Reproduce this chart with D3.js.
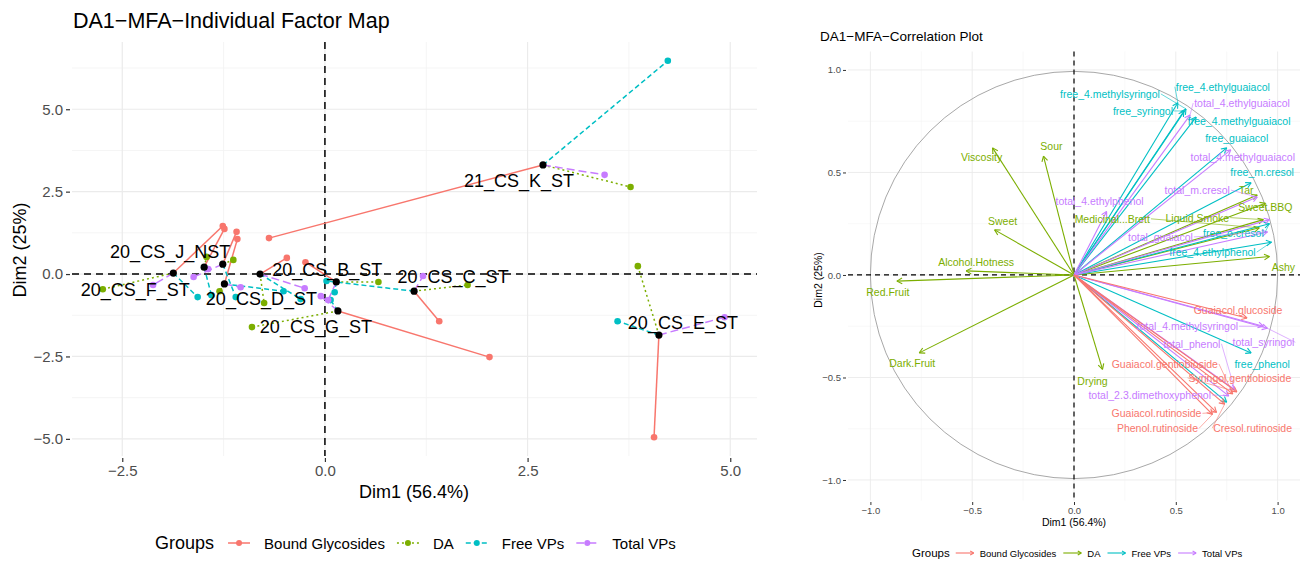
<!DOCTYPE html>
<html>
<head>
<meta charset="utf-8">
<script src="https://cdn.jsdelivr.net/npm/d3@7"></script>
<style>
  body { margin: 0; background: #fff; }
  svg { font-family: "Liberation Sans", Arial, Helvetica, sans-serif; }
</style>
</head>
<body>
<div id="chart"></div>
<script>
// ---- data ----
const groups = ["Bound Glycosides", "DA", "Free VPs", "Total VPs"];
const groupColors = ["#F8766D", "#7CAE00", "#00BFC4", "#C77CFF"];

// individuals (mean points), two of them carry no visible label
const indLabels = ["20_CS_F_ST", "20_CS_J_NST", "", "20_CS_D_ST", "", "20_CS_B_ST", "20_CS_G_ST", "20_CS_C_ST", "21_CS_K_ST", "20_CS_E_ST"];
const indDim1 = [-1.87, -1.49, -1.26, -1.24, -0.80, 0.14, 0.16, 1.10, 2.69, 4.12];
const indDim2 = [0.03, 0.21, 0.30, -0.30, 0.00, -0.24, -1.12, -0.52, 3.31, -1.85];

// partial points per group
const boundDim1 = [-1.26, -1.24, -1.09, -1.08, -0.47, -0.24, 2.03, 1.41, -0.69, 4.06];
const boundDim2 = [1.46, 1.37, 1.28, 1.06, 0.49, 0.36, -2.52, -1.43, 1.09, -4.95];
const daDim1 = [-2.74, -1.46, -1.13, -1.30, -0.75, 0.66, -0.90, 1.76, 3.77, 3.86];
const daDim2 = [-0.46, 0.52, 0.43, -0.52, -0.88, -0.24, -1.61, -0.33, 2.64, 0.24];
const freeDim1 = [-1.57, -1.40, -1.10, -0.51, -0.30, 0.12, 0.07, 0.02, 4.23, 3.61];
const freeDim2 = [-0.70, -0.64, -0.70, -0.52, -0.76, -0.55, -0.79, -0.21, 6.47, -1.43];
const totalDim1 = [-2.12, -1.44, -1.62, -1.04, -0.25, 0.04, -0.05, 1.21, 3.45, 4.93];
const totalDim2 = [-0.33, 0.15, -0.09, -0.40, -0.43, -0.79, -0.67, -0.06, 3.01, -1.31];

const indTicks = [-2.5, 0, 2.5, 5];
const indTicksY = [-5, -2.5, 0, 2.5, 5];

// variables of the correlation circle
const varNames = [
  "Viscosity", "Sour", "Sweet", "Alcohol.Hotness", "Red.Fruit", "Dark.Fruit", "Drying", "Ashy", "Tar", "Sweet.BBQ", "Liquid.Smoke", "Medicinal...Brett",
  "free_4.ethylguaiacol", "free_4.methylsyringol", "free_syringol", "free_4.methylguaiacol", "free_guaiacol", "free_m.cresol", "free_o.cresol", "free_4.ethylphenol", "free_phenol", "",
  "total_4.ethylguaiacol", "total_4.methylguaiacol", "total_m.cresol", "total_4.ethylphenol", "total_guaiacol", "total_syringol", "total_4.methylsyringol", "total_phenol", "total_2.3.dimethoxyphenol", "",
  "Guaiacol.glucoside", "Guaiacol.gentiobioside", "Syringol.gentiobioside", "Guaiacol.rutinoside", "Phenol.rutinoside", "Cresol.rutinoside"
];
const varGroup = [
  1, 1, 1, 1, 1, 1, 1, 1, 1, 1, 1, 1,
  2, 2, 2, 2, 2, 2, 2, 2, 2, 2,
  3, 3, 3, 3, 3, 3, 3, 3, 3, 3,
  0, 0, 0, 0, 0, 0
];
const varDim1 = [
  -0.40, -0.15, -0.39, -0.53, -0.87, -0.76, 0.14, 0.96, 0.90, 0.94, 0.93, 0.91,
  0.51, 0.55, 0.54, 0.60, 0.75, 0.87, 0.96, 0.97, 0.87, 0.75,
  0.57, 0.77, 0.90, 0.16, 0.95, 0.95, 0.93, 0.79, 0.76, 0.96,
  0.85, 0.78, 0.80, 0.70, 0.68, 0.74
];
const varDim2 = [
  0.62, 0.58, 0.22, 0.02, -0.03, -0.38, -0.46, 0.09, 0.39, 0.35, 0.27, 0.23,
  0.84, 0.81, 0.80, 0.77, 0.62, 0.45, 0.25, 0.16, -0.38, -0.62,
  0.78, 0.61, 0.38, 0.31, 0.21, -0.26, -0.25, -0.56, -0.59, 0.27,
  -0.21, -0.58, -0.57, -0.67, -0.68, -0.63
];
const corTicks = [-1, -0.5, 0, 0.5, 1];

// ---- layout (label placement in px, like ggrepel) ----
const indLabelShift = [[-38, 17], [-34, -15], null, [37, 15], null, [-9, -12], [-22, 16], [39, -14], [-24, 16], [24, -12]];
const varLabelShift = [
  [-11, 9], [8, -10], [8, -9], [10, -9], [-9, 11], [-7, 10], [-10, 12], [14, 10], [-11, -5], [0, 4], [-66, -2], [-147, -9],
  [45, -16], [-76, -15], [-41, 0], [43, 4], [10, -10], [11, -11], [-36, 9], [-59, 10], [11, 11], null,
  [52, -12], [12, 7], [-60, -7], [-7, -10], [-107, 5], [-4, 14], [-76, 0], [-43, -46], [-79, -1], null,
  [-9, -8], [-68, -30], [3, -14], [-60, 1], [-55, 14], [28, 24]
];

const W = 1308, H = 563;
const svg = d3.select("#chart").append("svg").attr("width", W).attr("height", H);

// ================= left: individual factor map =================
(function () {
  const x = d3.scaleLinear().domain([-3.12, 5.33]).range([72, 757]);
  const y = d3.scaleLinear().domain([-5.52, 7.04]).range([456, 42]);
  const g = svg.append("g");

  const minorX = [-1.25, 1.25, 3.75], minorY = [-3.75, -1.25, 1.25, 3.75, 6.25];
  g.selectAll(".mnx").data(minorX).join("line").attr("x1", d => x(d)).attr("x2", d => x(d)).attr("y1", 42).attr("y2", 456).attr("stroke", "#f3f3f3").attr("stroke-width", 0.8);
  g.selectAll(".mny").data(minorY).join("line").attr("y1", d => y(d)).attr("y2", d => y(d)).attr("x1", 72).attr("x2", 757).attr("stroke", "#f3f3f3").attr("stroke-width", 0.8);
  g.selectAll(".mjx").data(indTicks).join("line").attr("x1", d => x(d)).attr("x2", d => x(d)).attr("y1", 42).attr("y2", 456).attr("stroke", "#ebebeb").attr("stroke-width", 1.2);
  g.selectAll(".mjy").data(indTicksY).join("line").attr("y1", d => y(d)).attr("y2", d => y(d)).attr("x1", 72).attr("x2", 757).attr("stroke", "#ebebeb").attr("stroke-width", 1.2);

  const fmt = d3.format(".1f");
  const ax = g.append("g").attr("transform", "translate(0,458)")
    .call(d3.axisBottom(x).tickValues(indTicks).tickFormat(fmt).tickSize(4).tickPadding(3));
  const ay = g.append("g").attr("transform", "translate(70,0)")
    .call(d3.axisLeft(y).tickValues(indTicksY).tickFormat(fmt).tickSize(4).tickPadding(3));
  [ax, ay].forEach(a => {
    a.select(".domain").remove();
    a.selectAll("line").attr("stroke", "#333").attr("stroke-width", 1.2);
    a.selectAll("text").attr("fill", "#4d4d4d").style("font-size", "15px");
  });

  // reference lines
  g.append("line").attr("x1", 72).attr("x2", 757).attr("y1", y(0)).attr("y2", y(0)).attr("stroke", "#000").attr("stroke-width", 1.5).attr("stroke-dasharray", "7,5");
  g.append("line").attr("y1", 42).attr("y2", 456).attr("x1", x(0)).attr("x2", x(0)).attr("stroke", "#000").attr("stroke-width", 1.5).attr("stroke-dasharray", "7,5");

  const dash = [null, "2,3", "5,3", "8,4"];
  const parts = [[boundDim1, boundDim2], [daDim1, daDim2], [freeDim1, freeDim2], [totalDim1, totalDim2]];
  const partRows = [];
  parts.forEach((p, gi) => p[0].forEach((v, i) => partRows.push({ g: gi, i, d1: v, d2: p[1][i] })));

  g.selectAll(".seg").data(partRows).join("line")
    .attr("x1", d => x(indDim1[d.i])).attr("y1", d => y(indDim2[d.i]))
    .attr("x2", d => x(d.d1)).attr("y2", d => y(d.d2))
    .attr("stroke", d => groupColors[d.g]).attr("stroke-width", 1.5)
    .attr("stroke-dasharray", d => dash[d.g]);
  g.selectAll(".pp").data(partRows).join("circle")
    .attr("cx", d => x(d.d1)).attr("cy", d => y(d.d2)).attr("r", 3.3)
    .attr("fill", d => groupColors[d.g]);
  g.selectAll(".cp").data(indDim1).join("circle")
    .attr("cx", d => x(d)).attr("cy", (d, i) => y(indDim2[i])).attr("r", 3.6)
    .attr("fill", "#000");
  const labRows = indLabels.map((n, i) => ({ n, i })).filter(d => d.n !== "");
  g.selectAll(".lab").data(labRows).join("text")
    .attr("x", d => x(indDim1[d.i]) + indLabelShift[d.i][0])
    .attr("y", d => y(indDim2[d.i]) + indLabelShift[d.i][1])
    .attr("text-anchor", "middle").attr("dominant-baseline", "central")
    .style("font-size", "18px").attr("fill", "#000").text(d => d.n);

  svg.append("text").attr("x", 73).attr("y", 28).style("font-size", "21.5px").text("DA1\u2212MFA\u2212Individual Factor Map");
  svg.append("text").attr("x", 414).attr("y", 498).attr("text-anchor", "middle").style("font-size", "18px").text("Dim1 (56.4%)");
  svg.append("text").attr("transform", "translate(26,250) rotate(-90)").attr("text-anchor", "middle").style("font-size", "18px").text("Dim2 (25%)");

  // legend
  const lg = svg.append("g").attr("transform", "translate(0,543)");
  const gt = lg.append("text").attr("x", 155).attr("y", 0).attr("dominant-baseline", "central").style("font-size", "18px").text("Groups");
  let cx = 155 + gt.node().getComputedTextLength() + 14;
  groups.forEach((name, gi) => {
    lg.append("line").attr("x1", cx).attr("x2", cx + 22).attr("y1", 0).attr("y2", 0)
      .attr("stroke", groupColors[gi]).attr("stroke-width", 1.5).attr("stroke-dasharray", dash[gi]);
    lg.append("circle").attr("cx", cx + 11).attr("cy", 0).attr("r", 3).attr("fill", groupColors[gi]);
    const t = lg.append("text").attr("x", cx + 36).attr("y", 0).attr("dominant-baseline", "central").style("font-size", "15px").text(name);
    cx += 36 + t.node().getComputedTextLength() + 12;
  });
})();

// ================= right: correlation circle =================
(function () {
  const x = d3.scaleLinear().domain([-1.11, 1.11]).range([848, 1300]);
  const y = d3.scaleLinear().domain([-1.1, 1.09]).range([500.5, 51.5]);
  const g = svg.append("g");
  const minor = [-0.75, -0.25, 0.25, 0.75];
  g.selectAll(".mnx").data(minor).join("line").attr("x1", d => x(d)).attr("x2", d => x(d)).attr("y1", 51.5).attr("y2", 500.5).attr("stroke", "#f3f3f3").attr("stroke-width", 0.6);
  g.selectAll(".mny").data(minor).join("line").attr("y1", d => y(d)).attr("y2", d => y(d)).attr("x1", 848).attr("x2", 1300).attr("stroke", "#f3f3f3").attr("stroke-width", 0.6);
  g.selectAll(".mjx").data(corTicks).join("line").attr("x1", d => x(d)).attr("x2", d => x(d)).attr("y1", 51.5).attr("y2", 500.5).attr("stroke", "#ebebeb").attr("stroke-width", 0.9);
  g.selectAll(".mjy").data(corTicks).join("line").attr("y1", d => y(d)).attr("y2", d => y(d)).attr("x1", 848).attr("x2", 1300).attr("stroke", "#ebebeb").attr("stroke-width", 0.9);

  const fmt = d3.format(".1f");
  const ax = g.append("g").attr("transform", "translate(0,502)")
    .call(d3.axisBottom(x).tickValues(corTicks).tickFormat(fmt).tickSize(3).tickPadding(2));
  const ay = g.append("g").attr("transform", "translate(846,0)")
    .call(d3.axisLeft(y).tickValues(corTicks).tickFormat(fmt).tickSize(3).tickPadding(2));
  [ax, ay].forEach(a => {
    a.select(".domain").remove();
    a.selectAll("line").attr("stroke", "#333");
    a.selectAll("text").attr("fill", "#4d4d4d").style("font-size", "9.5px");
  });

  g.append("circle").attr("cx", x(0)).attr("cy", y(0)).attr("r", x(1) - x(0))
    .attr("fill", "none").attr("stroke", "#a8a8a8").attr("stroke-width", 1);
  g.append("line").attr("x1", 848).attr("x2", 1300).attr("y1", y(0)).attr("y2", y(0)).attr("stroke", "#000").attr("stroke-width", 1.2).attr("stroke-dasharray", "5,4");
  g.append("line").attr("y1", 51.5).attr("y2", 500.5).attr("x1", x(0)).attr("x2", x(0)).attr("stroke", "#000").attr("stroke-width", 1.2).attr("stroke-dasharray", "5,4");

  const rows = varNames.map((n, i) => ({ n, i, g: varGroup[i], d1: varDim1[i], d2: varDim2[i] }));
  function arrow(sel, x0, y0, x1, y1, color, head) {
    sel.append("line").attr("x1", x0).attr("y1", y0).attr("x2", x1).attr("y2", y1)
      .attr("stroke", color).attr("stroke-width", 1.1);
    const a = Math.atan2(y1 - y0, x1 - x0);
    [-0.5, 0.5].forEach(s => {
      sel.append("line").attr("x1", x1).attr("y1", y1)
        .attr("x2", x1 - head * Math.cos(a + s)).attr("y2", y1 - head * Math.sin(a + s))
        .attr("stroke", color).attr("stroke-width", 1.1);
    });
  }
  const ag = g.append("g");
  rows.forEach(r => arrow(ag, x(0), y(0), x(r.d1), y(r.d2), groupColors[r.g], 6));

  const lg = g.append("g");
  rows.forEach(r => {
    const sh = varLabelShift[r.i];
    if (!sh || r.n === "") return;
    const tx = x(r.d1) + sh[0], ty = y(r.d2) + sh[1];
    const t = lg.append("text").attr("x", tx).attr("y", ty)
      .attr("text-anchor", "middle").attr("dominant-baseline", "central")
      .style("font-size", "10.5px").attr("fill", groupColors[r.g]).text(r.n);
    const hw = t.node().getComputedTextLength() / 2;
    if (Math.abs(sh[0]) > hw + 4 || Math.abs(sh[1]) > 12) {
      const ex = sh[0] < 0 ? tx + hw + 1 : tx - hw - 1;
      lg.append("line").attr("x1", ex).attr("y1", ty).attr("x2", x(r.d1)).attr("y2", y(r.d2))
        .attr("stroke", groupColors[r.g]).attr("stroke-width", 0.6);
    }
  });

  svg.append("text").attr("x", 820).attr("y", 41).style("font-size", "13.5px").text("DA1\u2212MFA\u2212Correlation Plot");
  svg.append("text").attr("x", 1074).attr("y", 526).attr("text-anchor", "middle").style("font-size", "10.5px").text("Dim1 (56.4%)");
  svg.append("text").attr("transform", "translate(822,280) rotate(-90)").attr("text-anchor", "middle").style("font-size", "10.5px").text("Dim2 (25%)");

  const leg = svg.append("g").attr("transform", "translate(0,553)");
  const gt = leg.append("text").attr("x", 912).attr("y", 0).attr("dominant-baseline", "central").style("font-size", "11.5px").text("Groups");
  let cx = 912 + gt.node().getComputedTextLength() + 6;
  groups.forEach((name, gi) => {
    arrow(leg, cx, 0, cx + 18, 0, groupColors[gi], 4);
    const t = leg.append("text").attr("x", cx + 24).attr("y", 0).attr("dominant-baseline", "central").style("font-size", "9.5px").text(name);
    cx += 24 + t.node().getComputedTextLength() + 7;
  });
})();
</script>
</body>
</html>
